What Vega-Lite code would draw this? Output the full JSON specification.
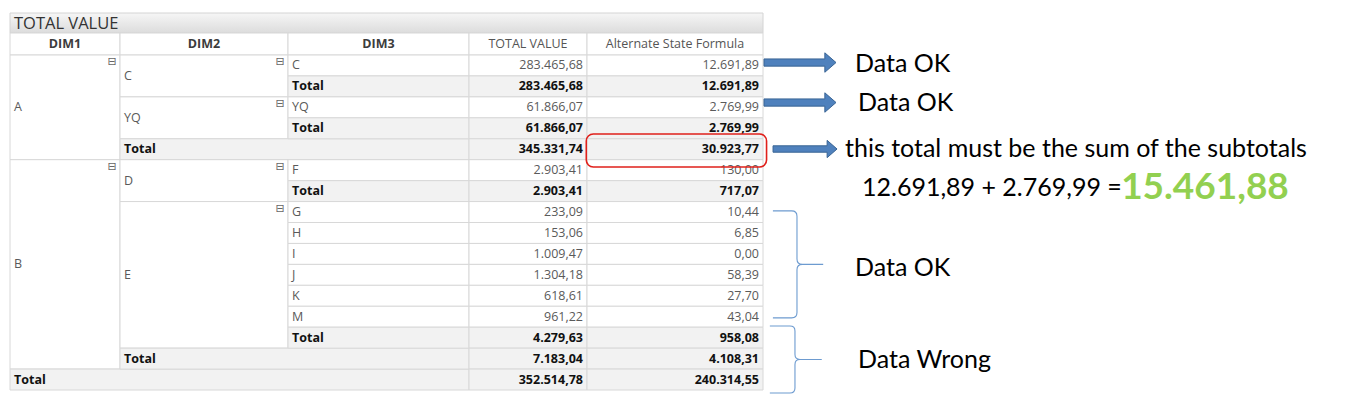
{
  "$schema": "https://vega.github.io/schema/vega-lite/v6.json",
  "width": 1355,
  "height": 409,
  "autosize": {"type": "fit", "contains": "padding"},
  "padding": 0,
  "background": "#ffffff",
  "config": {
    "view": {"stroke": null},
    "locale": {"number": {"decimal": ",", "thousands": ".", "grouping": [3], "currency": ["", ""]}}
  },
  "datasets": {
    "cells": [
      {"r0": -2, "r1": -1, "c0": 0, "c1": 5, "role": "title", "label": "TOTAL VALUE", "lr": -1.5},
      {"r0": -1, "r1": 0, "c0": 0, "c1": 1, "role": "hdim", "label": "DIM1", "lr": -0.5, "lc": 0.5},
      {"r0": -1, "r1": 0, "c0": 1, "c1": 2, "role": "hdim", "label": "DIM2", "lr": -0.5, "lc": 1.5},
      {"r0": -1, "r1": 0, "c0": 2, "c1": 3, "role": "hdim", "label": "DIM3", "lr": -0.5, "lc": 2.5},
      {"r0": -1, "r1": 0, "c0": 3, "c1": 4, "role": "hmeas", "label": "TOTAL VALUE", "lr": -0.5, "lc": 3.5},
      {"r0": -1, "r1": 0, "c0": 4, "c1": 5, "role": "hmeas", "label": "Alternate State Formula", "lr": -0.5, "lc": 4.5},
      {"r0": 0, "r1": 5, "c0": 0, "c1": 1, "role": "dim", "label": "A", "lr": 2.5, "open": true},
      {"r0": 5, "r1": 15, "c0": 0, "c1": 1, "role": "dim", "label": "B", "lr": 10, "open": true},
      {"r0": 15, "r1": 16, "c0": 0, "c1": 3, "role": "tot", "label": "Total", "lr": 15.5},
      {"r0": 0, "r1": 2, "c0": 1, "c1": 2, "role": "dim", "label": "C", "lr": 1, "open": true},
      {"r0": 2, "r1": 4, "c0": 1, "c1": 2, "role": "dim", "label": "YQ", "lr": 3, "open": true},
      {"r0": 4, "r1": 5, "c0": 1, "c1": 3, "role": "tot", "label": "Total", "lr": 4.5},
      {"r0": 5, "r1": 7, "c0": 1, "c1": 2, "role": "dim", "label": "D", "lr": 6, "open": true},
      {"r0": 7, "r1": 14, "c0": 1, "c1": 2, "role": "dim", "label": "E", "lr": 10.5, "open": true},
      {"r0": 14, "r1": 15, "c0": 1, "c1": 3, "role": "tot", "label": "Total", "lr": 14.5},
      {"r0": 0, "r1": 1, "c0": 2, "c1": 3, "role": "dim", "label": "C", "lr": 0.5},
      {"r0": 1, "r1": 2, "c0": 2, "c1": 3, "role": "tot", "label": "Total", "lr": 1.5},
      {"r0": 2, "r1": 3, "c0": 2, "c1": 3, "role": "dim", "label": "YQ", "lr": 2.5},
      {"r0": 3, "r1": 4, "c0": 2, "c1": 3, "role": "tot", "label": "Total", "lr": 3.5},
      {"r0": 5, "r1": 6, "c0": 2, "c1": 3, "role": "dim", "label": "F", "lr": 5.5},
      {"r0": 6, "r1": 7, "c0": 2, "c1": 3, "role": "tot", "label": "Total", "lr": 6.5},
      {"r0": 7, "r1": 8, "c0": 2, "c1": 3, "role": "dim", "label": "G", "lr": 7.5},
      {"r0": 8, "r1": 9, "c0": 2, "c1": 3, "role": "dim", "label": "H", "lr": 8.5},
      {"r0": 9, "r1": 10, "c0": 2, "c1": 3, "role": "dim", "label": "I", "lr": 9.5},
      {"r0": 10, "r1": 11, "c0": 2, "c1": 3, "role": "dim", "label": "J", "lr": 10.5},
      {"r0": 11, "r1": 12, "c0": 2, "c1": 3, "role": "dim", "label": "K", "lr": 11.5},
      {"r0": 12, "r1": 13, "c0": 2, "c1": 3, "role": "dim", "label": "M", "lr": 12.5},
      {"r0": 13, "r1": 14, "c0": 2, "c1": 3, "role": "tot", "label": "Total", "lr": 13.5}
    ],
    "rows": [
      {"r0": 0, "r1": 1, "lr": 0.5, "total": 283465.68, "alt": 12691.89, "tot": false},
      {"r0": 1, "r1": 2, "lr": 1.5, "total": 283465.68, "alt": 12691.89, "tot": true},
      {"r0": 2, "r1": 3, "lr": 2.5, "total": 61866.07, "alt": 2769.99, "tot": false},
      {"r0": 3, "r1": 4, "lr": 3.5, "total": 61866.07, "alt": 2769.99, "tot": true},
      {"r0": 4, "r1": 5, "lr": 4.5, "total": 345331.74, "alt": 30923.77, "tot": true},
      {"r0": 5, "r1": 6, "lr": 5.5, "total": 2903.41, "alt": 130.00, "tot": false},
      {"r0": 6, "r1": 7, "lr": 6.5, "total": 2903.41, "alt": 717.07, "tot": true},
      {"r0": 7, "r1": 8, "lr": 7.5, "total": 233.09, "alt": 10.44, "tot": false},
      {"r0": 8, "r1": 9, "lr": 8.5, "total": 153.06, "alt": 6.85, "tot": false},
      {"r0": 9, "r1": 10, "lr": 9.5, "total": 1009.47, "alt": 0.00, "tot": false},
      {"r0": 10, "r1": 11, "lr": 10.5, "total": 1304.18, "alt": 58.39, "tot": false},
      {"r0": 11, "r1": 12, "lr": 11.5, "total": 618.61, "alt": 27.70, "tot": false},
      {"r0": 12, "r1": 13, "lr": 12.5, "total": 961.22, "alt": 43.04, "tot": false},
      {"r0": 13, "r1": 14, "lr": 13.5, "total": 4279.63, "alt": 958.08, "tot": true},
      {"r0": 14, "r1": 15, "lr": 14.5, "total": 7183.04, "alt": 4108.31, "tot": true},
      {"r0": 15, "r1": 16, "lr": 15.5, "total": 352514.78, "alt": 240314.55, "tot": true}
    ],
    "notes": [
      {"label": "Data OK", "r": 0.42, "c": 5.1554, "role": "note"},
      {"label": "Data OK", "r": 2.31, "c": 5.1605, "role": "note"},
      {"label": "this total must be the sum of the subtotals", "r": 4.5, "c": 5.1385, "role": "note"},
      {"label": "12.691,89 + 2.769,99 =", "r": 6.35, "c": 5.1672, "role": "note"},
      {"label": "15.461,88", "r": 6.35, "c": 5.605, "role": "result"},
      {"label": "Data OK", "r": 10.15, "c": 5.1554, "role": "note"},
      {"label": "Data Wrong", "r": 14.59, "c": 5.1605, "role": "note"}
    ],
    "arrows": [
      {"r": 0.36, "c": 5.0625, "id": "a1"},
      {"r": 2.27, "c": 5.0625, "id": "a2"},
      {"r": 4.49, "c": 5.071, "id": "a3"}
    ],
    "braces": [
      {"r": 10.0, "c": 5.0574, "id": "ok"},
      {"r": 14.54, "c": 5.054, "id": "wrong"}
    ],
    "highlight": [
      {"r0": 3.77, "r1": 5.35, "c0": 3.994, "c1": 5.006}
    ]
  },
  "layer": [
    {
      "data": {"name": "cells"},
      "transform": [{"filter": "datum.role == 'title'"}],
      "mark": {"type": "rect", "stroke": "#d4d4d4", "strokeWidth": 1,
        "fill": {"gradient": "linear", "x1": 0, "y1": 0, "x2": 0, "y2": 1,
          "stops": [{"offset": 0, "color": "#f6f6f6"}, {"offset": 1, "color": "#dcdcdc"}]}},
      "encoding": {
        "x": {"field": "c0", "type": "quantitative", "axis": null, "scale": {"domain": [0, 1, 2, 3, 4, 5, 6], "range": [10, 120, 288, 469, 587, 763, 1355], "nice": false, "zero": false}},
        "x2": {"field": "c1"},
        "y": {"field": "r0", "type": "quantitative", "axis": null, "scale": {"domain": [-2, -1, 0, 16], "range": [13, 33, 55, 390], "nice": false, "zero": false}},
        "y2": {"field": "r1"}
      }
    },
    {
      "data": {"name": "cells"},
      "transform": [{"filter": "datum.role != 'title'"}],
      "mark": {"type": "rect", "stroke": "#d8d8d8", "strokeWidth": 1},
      "encoding": {
        "x": {"field": "c0", "type": "quantitative", "axis": null},
        "x2": {"field": "c1"},
        "y": {"field": "r0", "type": "quantitative", "axis": null},
        "y2": {"field": "r1"},
        "fill": {"condition": {"test": "datum.role == 'tot'", "value": "#f2f2f2"}, "value": "#ffffff"}
      }
    },
    {
      "data": {"name": "rows"},
      "mark": {"type": "rect", "stroke": "#d8d8d8", "strokeWidth": 1},
      "encoding": {
        "x": {"datum": 3, "type": "quantitative", "axis": null},
        "x2": {"datum": 4},
        "y": {"field": "r0", "type": "quantitative", "axis": null},
        "y2": {"field": "r1"},
        "fill": {"condition": {"test": "datum.tot", "value": "#f2f2f2"}, "value": "#ffffff"}
      }
    },
    {
      "data": {"name": "rows"},
      "mark": {"type": "rect", "stroke": "#d8d8d8", "strokeWidth": 1},
      "encoding": {
        "x": {"datum": 4, "type": "quantitative", "axis": null},
        "x2": {"datum": 5},
        "y": {"field": "r0", "type": "quantitative", "axis": null},
        "y2": {"field": "r1"},
        "fill": {"condition": {"test": "datum.tot", "value": "#f2f2f2"}, "value": "#ffffff"}
      }
    },
    {
      "data": {"name": "cells"},
      "transform": [{"filter": "datum.role == 'title'"}],
      "mark": {"type": "text", "align": "left", "baseline": "middle", "dx": 4, "dy": 1, "font": "Open Sans", "fontSize": 16.5, "color": "#333333"},
      "encoding": {
        "x": {"field": "c0", "type": "quantitative", "axis": null},
        "y": {"field": "lr", "type": "quantitative", "axis": null},
        "text": {"field": "label"}
      }
    },
    {
      "data": {"name": "cells"},
      "transform": [{"filter": "datum.role == 'hdim'"}],
      "mark": {"type": "text", "align": "center", "baseline": "middle", "font": "Open Sans", "fontSize": 12.5, "fontWeight": "bold", "color": "#3c3c3c"},
      "encoding": {
        "x": {"field": "lc", "type": "quantitative", "axis": null},
        "y": {"field": "lr", "type": "quantitative", "axis": null},
        "text": {"field": "label"}
      }
    },
    {
      "data": {"name": "cells"},
      "transform": [{"filter": "datum.role == 'hmeas'"}],
      "mark": {"type": "text", "align": "center", "baseline": "middle", "font": "Open Sans", "fontSize": 12.5, "color": "#555555"},
      "encoding": {
        "x": {"field": "lc", "type": "quantitative", "axis": null},
        "y": {"field": "lr", "type": "quantitative", "axis": null},
        "text": {"field": "label"}
      }
    },
    {
      "data": {"name": "cells"},
      "transform": [{"filter": "datum.role == 'dim'"}],
      "mark": {"type": "text", "align": "left", "baseline": "middle", "dx": 4, "font": "Open Sans", "fontSize": 12.5, "color": "#5a5a5a"},
      "encoding": {
        "x": {"field": "c0", "type": "quantitative", "axis": null},
        "y": {"field": "lr", "type": "quantitative", "axis": null},
        "text": {"field": "label"}
      }
    },
    {
      "data": {"name": "cells"},
      "transform": [{"filter": "datum.role == 'tot'"}],
      "mark": {"type": "text", "align": "left", "baseline": "middle", "dx": 4, "font": "Open Sans", "fontSize": 12.5, "fontWeight": "bold", "color": "#111111"},
      "encoding": {
        "x": {"field": "c0", "type": "quantitative", "axis": null},
        "y": {"field": "lr", "type": "quantitative", "axis": null},
        "text": {"field": "label"}
      }
    },
    {
      "data": {"name": "cells"},
      "transform": [{"filter": "datum.open == true"}],
      "mark": {"type": "text", "align": "center", "baseline": "middle", "dx": -8, "dy": 7, "font": "DejaVu Sans", "fontSize": 11, "color": "#666666"},
      "encoding": {
        "x": {"field": "c1", "type": "quantitative", "axis": null},
        "y": {"field": "r0", "type": "quantitative", "axis": null},
        "text": {"value": "⊟"}
      }
    },
    {
      "data": {"name": "rows"},
      "transform": [{"filter": "!datum.tot"}],
      "mark": {"type": "text", "align": "right", "baseline": "middle", "dx": -4, "font": "Open Sans", "fontSize": 12.5, "color": "#5a5a5a"},
      "encoding": {
        "x": {"datum": 4, "type": "quantitative", "axis": null},
        "y": {"field": "lr", "type": "quantitative", "axis": null},
        "text": {"field": "total", "type": "quantitative", "format": ",.2f"}
      }
    },
    {
      "data": {"name": "rows"},
      "transform": [{"filter": "datum.tot"}],
      "mark": {"type": "text", "align": "right", "baseline": "middle", "dx": -4, "font": "Open Sans", "fontSize": 12.5, "fontWeight": "bold", "color": "#111111"},
      "encoding": {
        "x": {"datum": 4, "type": "quantitative", "axis": null},
        "y": {"field": "lr", "type": "quantitative", "axis": null},
        "text": {"field": "total", "type": "quantitative", "format": ",.2f"}
      }
    },
    {
      "data": {"name": "rows"},
      "transform": [{"filter": "!datum.tot"}],
      "mark": {"type": "text", "align": "right", "baseline": "middle", "dx": -4, "font": "Open Sans", "fontSize": 12.5, "color": "#5a5a5a"},
      "encoding": {
        "x": {"datum": 5, "type": "quantitative", "axis": null},
        "y": {"field": "lr", "type": "quantitative", "axis": null},
        "text": {"field": "alt", "type": "quantitative", "format": ",.2f"}
      }
    },
    {
      "data": {"name": "rows"},
      "transform": [{"filter": "datum.tot"}],
      "mark": {"type": "text", "align": "right", "baseline": "middle", "dx": -4, "font": "Open Sans", "fontSize": 12.5, "fontWeight": "bold", "color": "#111111"},
      "encoding": {
        "x": {"datum": 5, "type": "quantitative", "axis": null},
        "y": {"field": "lr", "type": "quantitative", "axis": null},
        "text": {"field": "alt", "type": "quantitative", "format": ",.2f"}
      }
    },
    {
      "data": {"name": "highlight"},
      "mark": {"type": "rect", "filled": false, "color": "#e0201b", "strokeWidth": 1.6, "cornerRadius": 7},
      "encoding": {
        "x": {"field": "c0", "type": "quantitative", "axis": null},
        "x2": {"field": "c1"},
        "y": {"field": "r0", "type": "quantitative", "axis": null},
        "y2": {"field": "r1"}
      }
    },
    {
      "data": {"name": "arrows"},
      "mark": {"type": "point", "filled": true, "fill": "#4f81bd", "stroke": "#3a6595", "strokeWidth": 1, "opacity": 1,
        "shape": "M-1,-0.1L0.69,-0.1L0.69,-0.27L1,0L0.69,0.27L0.69,0.1L-1,0.1Z"},
      "encoding": {
        "x": {"field": "c", "type": "quantitative", "axis": null},
        "y": {"field": "r", "type": "quantitative", "axis": null},
        "size": {"condition": {"test": "datum.id == 'a3'", "value": 4096}, "value": 5184}
      }
    },
    {
      "data": {"name": "braces"},
      "transform": [{"filter": "datum.id == 'ok'"}],
      "mark": {"type": "point", "filled": false, "stroke": "#6d9bd0", "strokeWidth": 1.1, "opacity": 1, "size": 11449,
        "shape": "M-0.45,-1L-0.1,-1Q0,-1 0,-0.9L0,-0.1Q0,0 0.1,0L0.49,0M0.1,0Q0,0 0,0.1L0,0.9Q0,1 -0.1,1L-0.45,1"},
      "encoding": {
        "x": {"field": "c", "type": "quantitative", "axis": null},
        "y": {"field": "r", "type": "quantitative", "axis": null}
      }
    },
    {
      "data": {"name": "braces"},
      "transform": [{"filter": "datum.id == 'wrong'"}],
      "mark": {"type": "point", "filled": false, "stroke": "#6d9bd0", "strokeWidth": 1.1, "opacity": 1, "size": 4489,
        "shape": "M-0.75,-1L-0.15,-1Q0,-1 0,-0.85L0,-0.15Q0,0 0.15,0L0.8,0M0.15,0Q0,0 0,0.15L0,0.85Q0,1 -0.15,1L-0.75,1"},
      "encoding": {
        "x": {"field": "c", "type": "quantitative", "axis": null},
        "y": {"field": "r", "type": "quantitative", "axis": null}
      }
    },
    {
      "data": {"name": "notes"},
      "transform": [{"filter": "datum.role == 'note'"}],
      "mark": {"type": "text", "align": "left", "baseline": "middle", "font": "Lato", "fontSize": 25, "color": "#000000"},
      "encoding": {
        "x": {"field": "c", "type": "quantitative", "axis": null},
        "y": {"field": "r", "type": "quantitative", "axis": null},
        "text": {"field": "label"}
      }
    },
    {
      "data": {"name": "notes"},
      "transform": [{"filter": "datum.role == 'result'"}],
      "mark": {"type": "text", "align": "left", "baseline": "middle", "font": "Lato", "fontSize": 37, "fontWeight": "bold", "letterSpacing": 2, "color": "#92d050"},
      "encoding": {
        "x": {"field": "c", "type": "quantitative", "axis": null},
        "y": {"field": "r", "type": "quantitative", "axis": null},
        "text": {"field": "label"}
      }
    }
  ]
}
